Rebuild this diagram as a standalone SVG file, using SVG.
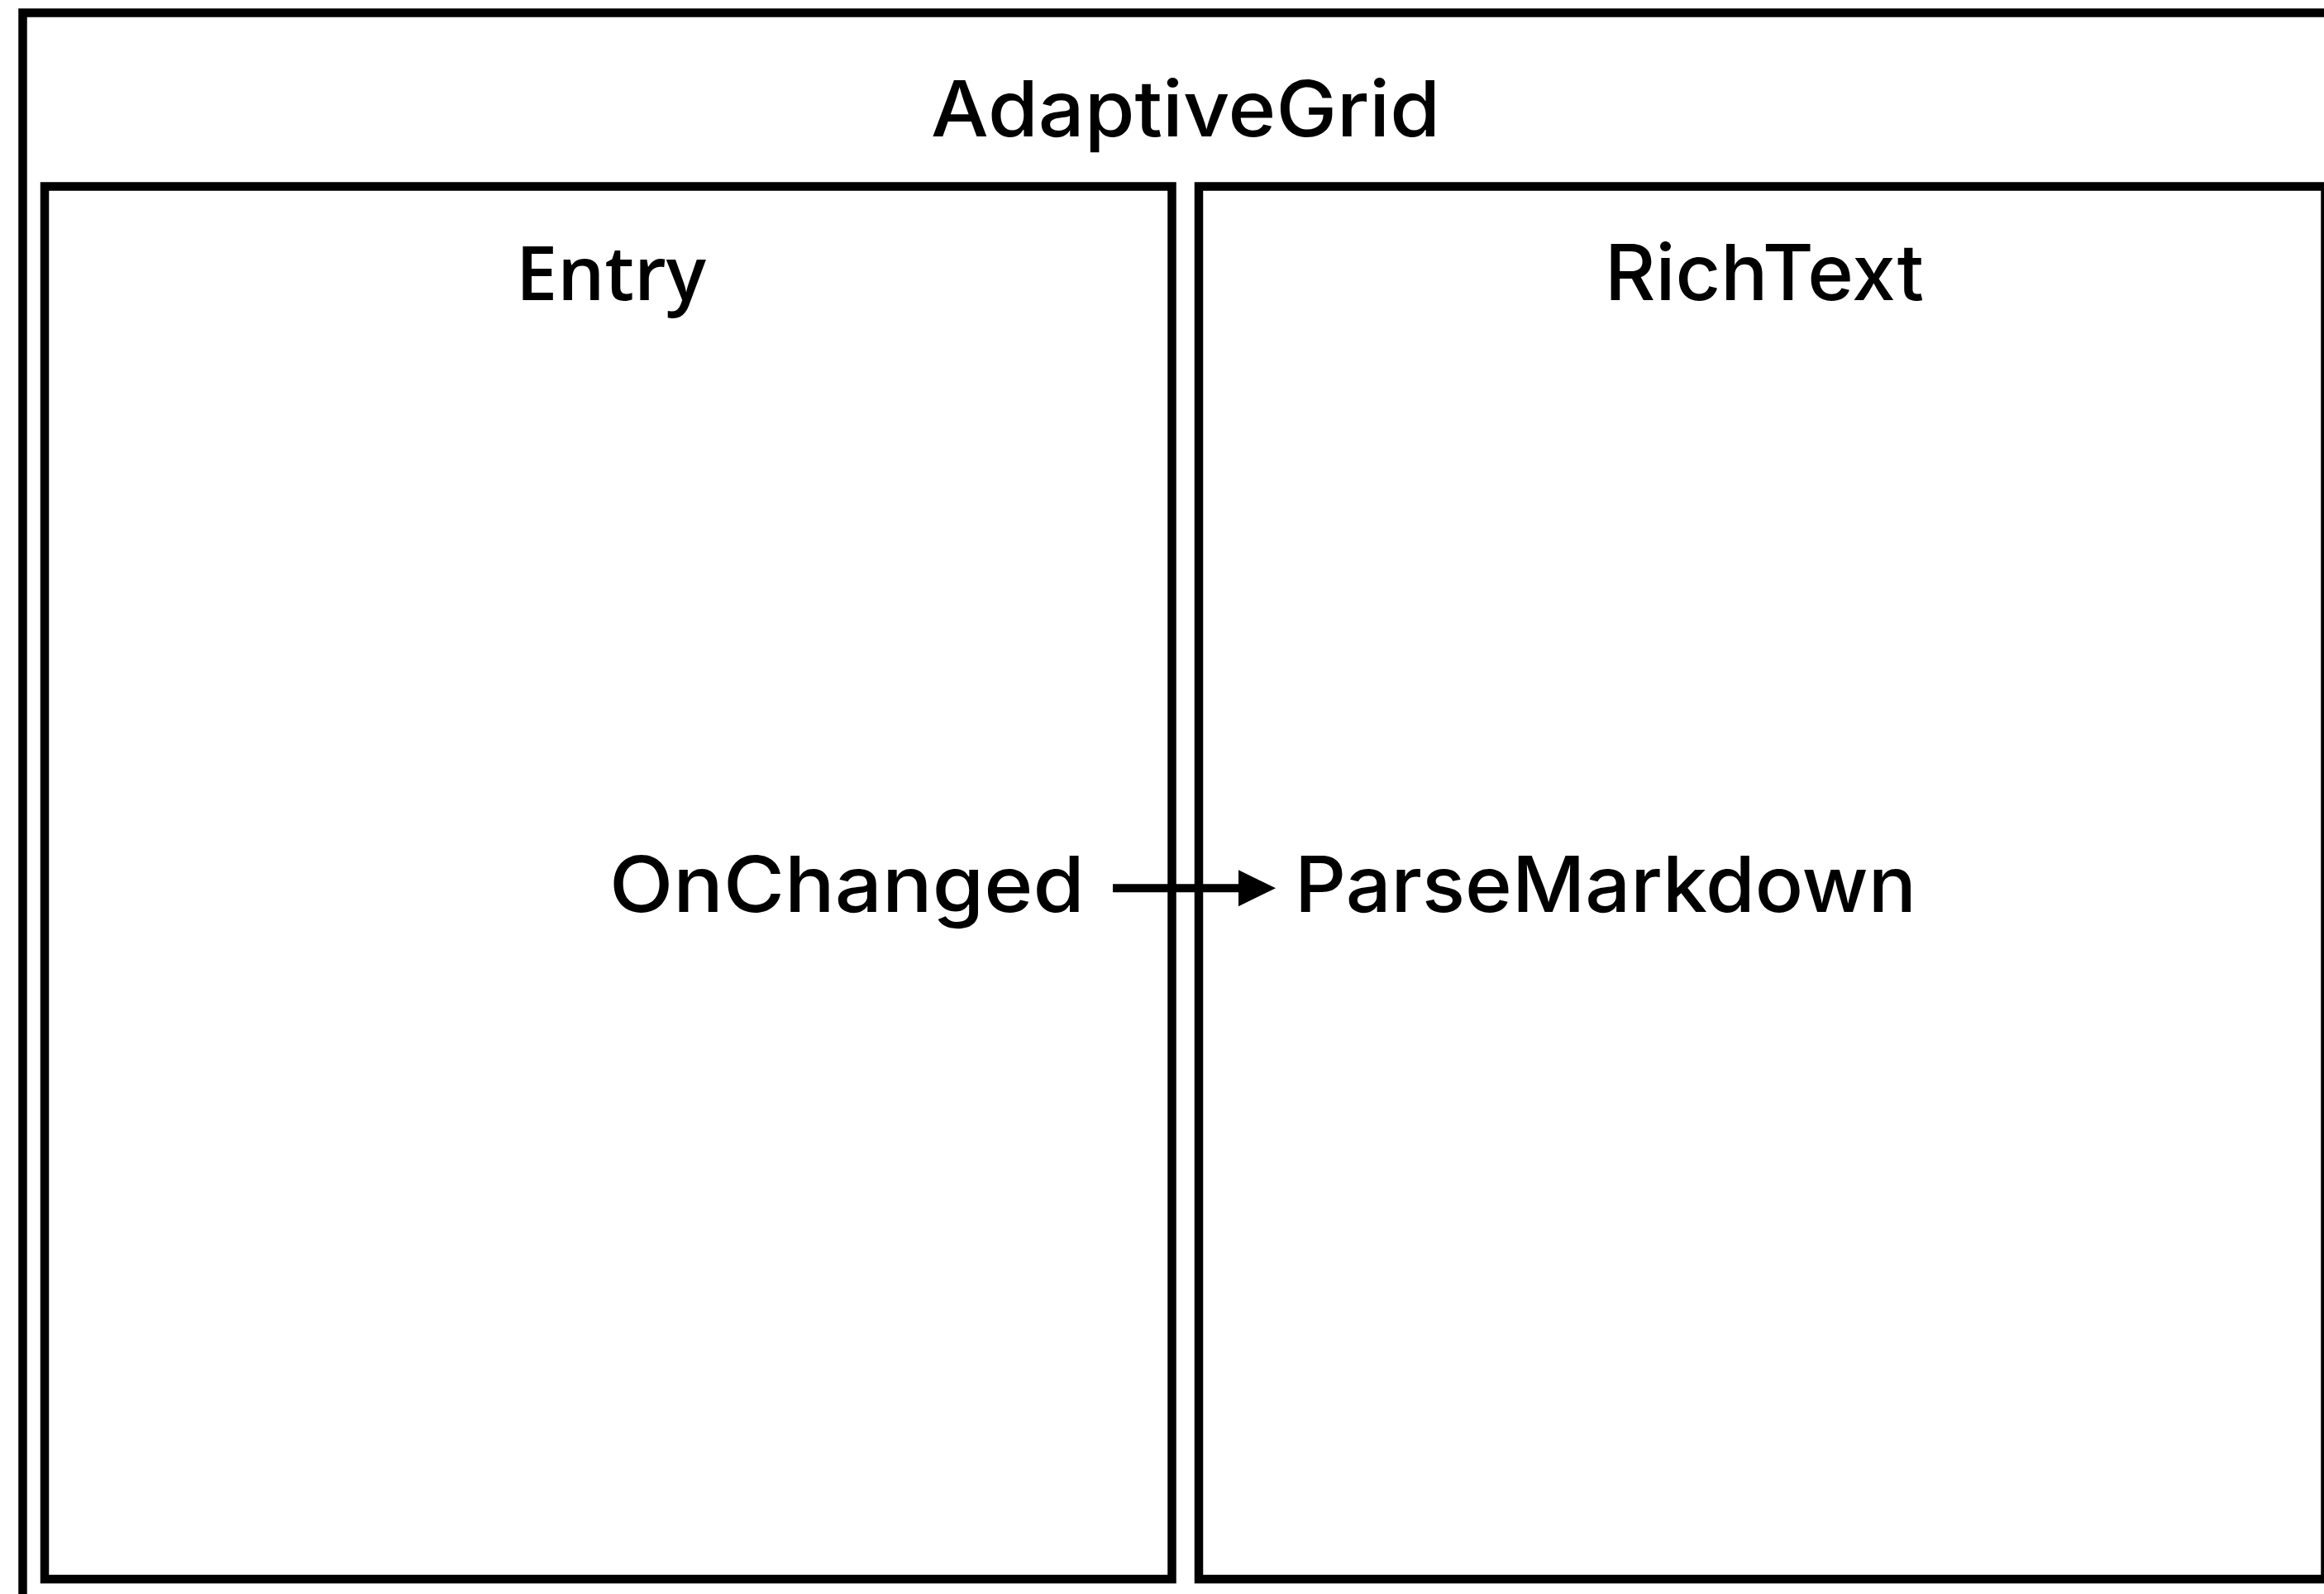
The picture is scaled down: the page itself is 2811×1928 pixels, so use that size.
<svg xmlns="http://www.w3.org/2000/svg" width="2811" height="1928" viewBox="0 0 2811 1928">
<style>
.box{fill:none;stroke:#000;stroke-width:10.5}
.lbl{font-family:Inter,"Liberation Sans",sans-serif;font-size:94px;font-weight:500;fill:#000}
.lbl2{font-family:"Open Sans","Liberation Sans",sans-serif;font-size:91px;font-weight:600;fill:#000}
.edge{stroke:#000;stroke-width:10;fill:none}
</style>
<defs>
<marker id="arrow" markerUnits="userSpaceOnUse" markerWidth="46" markerHeight="46" refX="0" refY="22" orient="auto" overflow="visible">
<path d="M0,0 L45,22 L0,44 Z" fill="#000"/>
</marker>
</defs>
<rect width="2811" height="1928" fill="#fff"/>
<g id="AdaptiveGrid">
<rect class="box" x="27.5" y="15.5" width="2811.5" height="1921"/>
<text class="lbl" x="1126" y="165" textLength="616" lengthAdjust="spacingAndGlyphs">AdaptiveGrid</text>
</g>
<g id="Entry">
<rect class="box" x="54" y="225.5" width="1363.5" height="1684.5"/>
<text class="lbl2" x="624" y="363" textLength="230" lengthAdjust="spacingAndGlyphs">Entry</text>
</g>
<g id="RichText">
<rect class="box" x="1450" y="225.5" width="1362.5" height="1684.5"/>
<text class="lbl" x="1941" y="363" textLength="386" lengthAdjust="spacingAndGlyphs">RichText</text>
</g>
<g id="OnChanged">
<text class="lbl" x="737" y="1103" textLength="575" lengthAdjust="spacingAndGlyphs">OnChanged</text>
</g>
<g id="ParseMarkdown">
<text class="lbl" x="1566" y="1103" textLength="752" lengthAdjust="spacingAndGlyphs">ParseMarkdown</text>
</g>
<g id="connectors">
<line class="edge" x1="1346" y1="1074.3" x2="1498" y2="1074.3" marker-end="url(#arrow)"/>
</g>
</svg>
